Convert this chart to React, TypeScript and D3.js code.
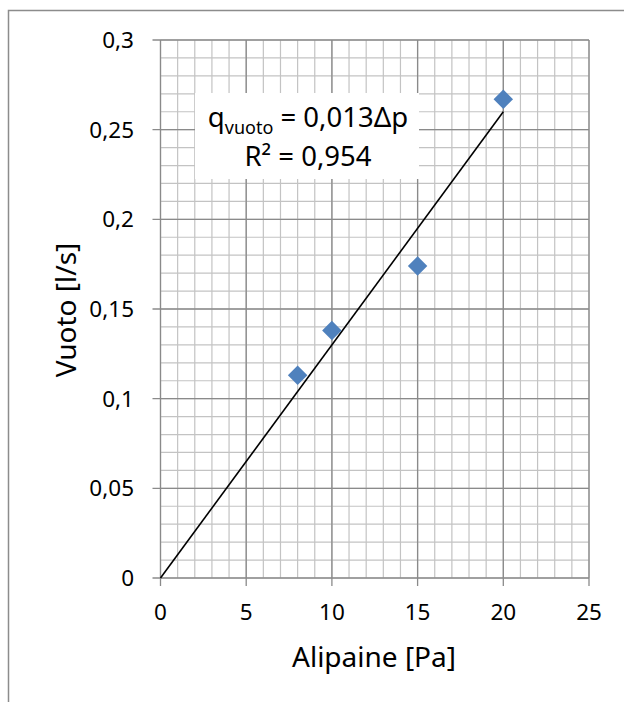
import React from "react";
import * as d3 from "d3";

const pressure = [8, 10, 15, 20];
const flow = [0.113, 0.138, 0.174, 0.267];
const slope = 0.013;
const trendRange = [0, 20];
const xTicks = [0, 5, 10, 15, 20, 25];
const yTicks = [0, 0.05, 0.1, 0.15, 0.2, 0.25, 0.3];
const xLabel = "Alipaine [Pa]";
const yLabel = "Vuoto [l/s]";
const r2Text = "R² = 0,954";

const W = 624;
const H = 702;
const FONT = "'Noto Sans', 'Open Sans', sans-serif";

export default function App() {
  const x = d3.scaleLinear().domain([0, 25]).range([160.5, 589]);
  const y = d3.scaleLinear().domain([0, 0.3]).range([578, 40]);
  const fmt = (v: number) => String(+v.toFixed(2)).replace(".", ",");

  const xMinor = d3.range(0, 25.001, 1);
  const yMinor = d3.range(0, 0.3001, 0.01);

  const line = d3
    .line<number>()
    .x((d) => x(d))
    .y((d) => y(slope * d));

  const diamond = d3.symbol().type(d3.symbolDiamond2).size(2 * 11 * 11)();

  return (
    <svg
      width={W}
      height={H}
      style={{ position: "fixed", left: 0, top: 0, background: "#fff" }}
      fontFamily={FONT}
    >
      <rect x={0} y={0} width={W} height={H} fill="#fff" />
      {/* outer frame */}
      <rect x={8.5} y={10.5} width={W + 20} height={H + 20} fill="none" stroke="#8c8c8c" strokeWidth={1.5} />

      {/* minor grid */}
      {xMinor.map((v, i) => (
        <line key={"xm" + i} x1={x(v)} x2={x(v)} y1={y(0.3)} y2={y(0)} stroke="#c3c3c3" strokeWidth={1.2} />
      ))}
      {yMinor.map((v, i) => (
        <line key={"ym" + i} x1={x(0)} x2={x(25)} y1={y(v)} y2={y(v)} stroke="#c3c3c3" strokeWidth={1.2} />
      ))}
      {/* major grid */}
      {xTicks.map((v, i) => (
        <line key={"xM" + i} x1={x(v)} x2={x(v)} y1={y(0.3)} y2={y(0) + 8} stroke="#8a8a8a" strokeWidth={1.3} />
      ))}
      {yTicks.map((v, i) => (
        <line key={"yM" + i} x1={x(0) - 8} x2={x(25)} y1={y(v)} y2={y(v)} stroke="#8a8a8a" strokeWidth={1.3} />
      ))}

      {/* label box */}
      <rect x={195} y={93} width={224} height={86} fill="#fff" />
      <text x={308} y={127} textAnchor="middle" fontSize={27.5} fill="#000">
        <tspan>q</tspan>
        <tspan fontSize={18} dy={7}>vuoto</tspan>
        <tspan dy={-7}>{" = 0,013Δp"}</tspan>
      </text>
      <text x={308} y={166} textAnchor="middle" fontSize={27.5} fill="#000">
        {r2Text}
      </text>

      {/* trendline */}
      <path d={line(trendRange) || ""} fill="none" stroke="#000" strokeWidth={1.6} />

      {/* points */}
      {pressure.map((p, i) => (
        <path key={"pt" + i} d={diamond || ""} transform={`translate(${x(p)},${y(flow[i])})`} fill="#4f81bd" />
      ))}

      {/* y tick labels */}
      {yTicks.map((v, i) => (
        <text key={"yl" + i} x={134} y={y(v) + 8} textAnchor="end" fontSize={22.5} fill="#000">
          {fmt(v)}
        </text>
      ))}
      {/* x tick labels */}
      {xTicks.map((v, i) => (
        <text key={"xl" + i} x={x(v)} y={620} textAnchor="middle" fontSize={22.5} fill="#000">
          {fmt(v)}
        </text>
      ))}

      <text x={374} y={667} textAnchor="middle" fontSize={28} fill="#000">
        {xLabel}
      </text>
      <text transform={`translate(76,310) rotate(-90)`} textAnchor="middle" fontSize={28} fill="#000">
        {yLabel}
      </text>
    </svg>
  );
}
